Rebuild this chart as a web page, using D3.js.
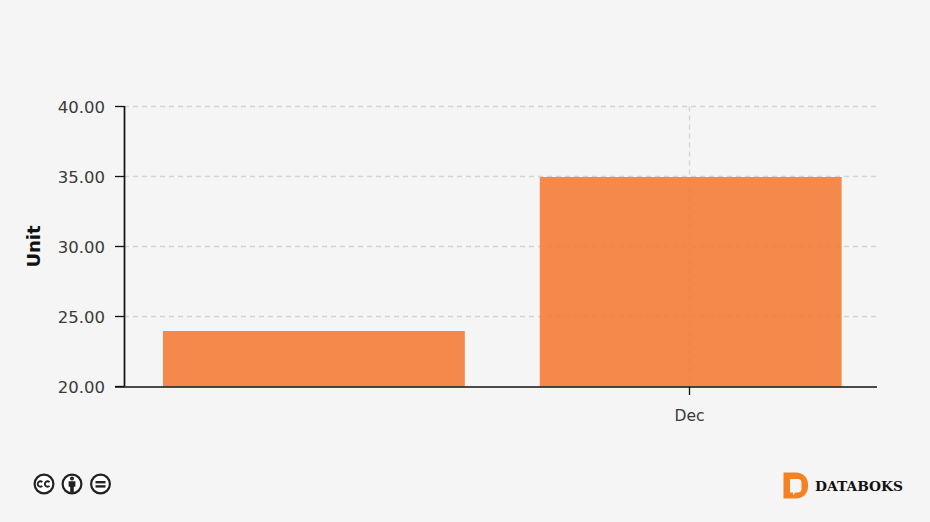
<!DOCTYPE html>
<html>
<head>
<meta charset="utf-8">
<script src="https://cdn.jsdelivr.net/npm/d3@7"></script>
<style>
    html, body { margin: 0; padding: 0; background: #f5f5f5; }
    svg { display: block; }
    text { font-family: "DejaVu Sans", sans-serif; }
</style>
</head>
<body>
<div id="chart"></div>
<script>
const categories = ["Nov", "Dec"];
const values = [24, 35];
const yTicks = [20, 25, 30, 35, 40];
const xTickLabels = ["Dec"];

const width = 930;
const height = 522;
const barColor = "#f47a33";
const axisColor = "#111111";
const gridColor = "#d4d4d4";

const svg = d3.select("#chart")
    .append("svg")
    .attr("width", width)
    .attr("height", height);

svg.append("rect")
    .attr("width", width)
    .attr("height", height)
    .attr("fill", "#f5f5f5");

const xScale = d3.scaleBand()
    .domain(categories)
    .range([125.3, 879.3])
    .paddingInner(0.199)
    .paddingOuter(0.1);

const yScale = d3.scaleLinear()
    .domain([20, 40])
    .range([386.5, 106.5]);

// tick of the labelled month sits slightly left of the bar centre
const tickX = d => Math.floor(xScale(d) + xScale.bandwidth() / 2) - 0.5;

// ---------------------------
// GRID
// ---------------------------

svg.append("g")
    .selectAll("line")
    .data(yTicks.slice(1))
    .join("line")
    .attr("x1", 124)
    .attr("x2", 877)
    .attr("y1", d => yScale(d))
    .attr("y2", d => yScale(d))
    .attr("stroke", gridColor)
    .attr("stroke-width", 1.4)
    .attr("stroke-dasharray", "5,4");

svg.append("g")
    .selectAll("line")
    .data(xTickLabels)
    .join("line")
    .attr("x1", tickX)
    .attr("x2", tickX)
    .attr("y1", yScale(40))
    .attr("y2", yScale(20))
    .attr("stroke", gridColor)
    .attr("stroke-width", 1.4)
    .attr("stroke-dasharray", "5,4");

// ---------------------------
// BARS
// ---------------------------

svg.append("g")
    .selectAll("rect")
    .data(values)
    .join("rect")
    .attr("x", (d, i) => xScale(categories[i]))
    .attr("y", d => yScale(d) + 0.5)
    .attr("width", xScale.bandwidth())
    .attr("height", d => yScale(20) - yScale(d) - 0.5)
    .attr("fill", barColor)
    .attr("fill-opacity", 0.88);

// ---------------------------
// AXES
// ---------------------------

const yAxis = svg.append("g").attr("class", "y-axis");

yAxis.append("line")
    .attr("x1", 124.5)
    .attr("x2", 124.5)
    .attr("y1", yScale(40) - 0.5)
    .attr("y2", yScale(20))
    .attr("stroke", axisColor)
    .attr("stroke-width", 1.7);

yAxis.selectAll(".tick")
    .data(yTicks)
    .join("line")
    .attr("class", "tick")
    .attr("x1", 115)
    .attr("x2", 124)
    .attr("y1", d => yScale(d))
    .attr("y2", d => yScale(d))
    .attr("stroke", axisColor)
    .attr("stroke-width", 1.3);

yAxis.selectAll("text")
    .data(yTicks)
    .join("text")
    .attr("x", 105)
    .attr("y", d => yScale(d) + 0.6)
    .attr("dy", "0.36em")
    .attr("text-anchor", "end")
    .attr("font-size", "16.5px")
    .attr("fill", "#3a3a3a")
    .text(d => d.toFixed(2));

svg.append("text")
    .attr("transform", "translate(40,246.5) rotate(-90)")
    .attr("text-anchor", "middle")
    .attr("font-size", "18px")
    .attr("font-weight", 700)
    .attr("fill", "#111111")
    .text("Unit");

const xAxis = svg.append("g").attr("class", "x-axis");

xAxis.append("line")
    .attr("x1", 115)
    .attr("x2", 877)
    .attr("y1", 387)
    .attr("y2", 387)
    .attr("stroke", axisColor)
    .attr("stroke-width", 1.7);

xAxis.selectAll(".tick")
    .data(xTickLabels)
    .join("line")
    .attr("class", "tick")
    .attr("x1", tickX)
    .attr("x2", tickX)
    .attr("y1", 387)
    .attr("y2", 395)
    .attr("stroke", axisColor)
    .attr("stroke-width", 1.3);

xAxis.selectAll("text")
    .data(xTickLabels)
    .join("text")
    .attr("x", tickX)
    .attr("y", 421)
    .attr("text-anchor", "middle")
    .attr("font-size", "15.5px")
    .attr("fill", "#3a3a3a")
    .text(d => d);

// ---------------------------
// LICENCE ICONS
// ---------------------------

const icons = svg.append("g").attr("class", "cc-icons");

const iconRing = (cx) => icons.append("circle")
    .attr("cx", cx)
    .attr("cy", 484)
    .attr("r", 9.4)
    .attr("fill", "#ffffff")
    .attr("stroke", "#222222")
    .attr("stroke-width", 2.2);

[44, 72, 100.5].forEach(iconRing);

// the "cc" mark, each c open to the right
[40.4, 47.6].forEach(cx => {
    icons.append("path")
        .attr("d", d3.arc()({
            innerRadius: 2.7,
            outerRadius: 2.7,
            startAngle: Math.PI * 0.75,
            endAngle: Math.PI * 2.25
        }))
        .attr("transform", `translate(${cx},484)`)
        .attr("fill", "none")
        .attr("stroke", "#222222")
        .attr("stroke-width", 1.9);
});

// the person
icons.append("circle")
    .attr("cx", 72)
    .attr("cy", 478.5)
    .attr("r", 2)
    .attr("fill", "#222222");

icons.append("path")
    .attr("d", "M68.6 481.2h6.8v5.6h-1.6v5.6h-3.6v-5.6h-1.6z")
    .attr("fill", "#222222");

// the equals sign
icons.selectAll(".eq")
    .data([481, 485.2])
    .join("rect")
    .attr("class", "eq")
    .attr("x", 95.5)
    .attr("y", d => d)
    .attr("width", 10)
    .attr("height", 2.4)
    .attr("fill", "#222222");

// ---------------------------
// LOGO
// ---------------------------

const logo = svg.append("g").attr("class", "logo");

logo.append("path")
    .attr("d", "M783.5 472.5h12.5c7 0 12 5 12 12v2c0 7 -5 12 -12 12h-12.5z")
    .attr("fill", "#f58220");

logo.append("path")
    .attr("d", "M790 479h8c2 0 3.5 1.5 3.5 3.5v6.5c0 2 -1.5 3.5 -3.5 3.5h-2.5l-2.5 2.5v-2.5h-3z")
    .attr("fill", "#f5f5f5");

logo.append("text")
    .attr("x", 815)
    .attr("y", 491)
    .attr("font-size", "13.8px")
    .attr("font-weight", 700)
    .style("font-family", "'DejaVu Serif', serif")
    .attr("fill", "#111111")
    .text("DATABOKS");
</script>
</body>
</html>
